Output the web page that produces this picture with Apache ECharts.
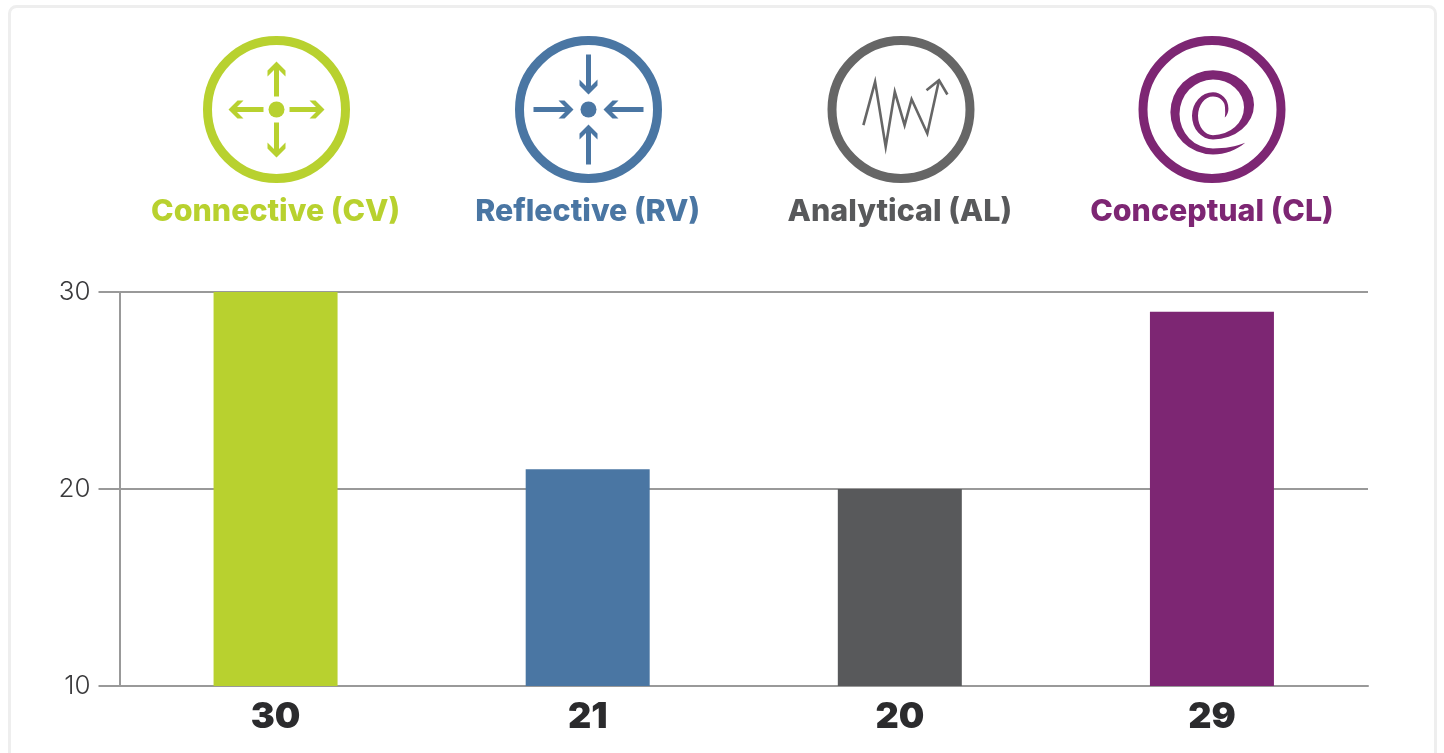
<!DOCTYPE html>
<html>
<head>
<meta charset="utf-8">
<style>
  html, body { margin: 0; padding: 0; background: #fff; }
  #main { width: 1444px; height: 753px; }
</style>
</head>
<body>
<div id="main"></div>
<script src="https://cdn.jsdelivr.net/npm/echarts@6/dist/echarts.min.js"></script>
<script>
const categories = ['Connective (CV)', 'Reflective (RV)', 'Analytical (AL)', 'Conceptual (CL)'];
const scores = [30, 21, 20, 29];
const barColors = ['#b8d12f', '#4a76a3', '#58595b', '#7d2673'];
const labelColors = ['#b8d12f', '#4a76a3', '#58595b', '#7d2673'];
const ringColors = ['#b8d12f', '#4a76a3', '#666666', '#7d2673'];
const iconCenters = [[276.5, 109.5], [588.5, 109.5], [901, 109.5], [1212, 109.5]];

const spiralPath = 'M12.8 8A12 12 0 0 0 16.4 -1A15.4 16.3 0 0 0 1 -17.3'
  + 'A21 23.65 0 0 0 1 30A41 34.65 0 0 0 1 -39.3A42.6 42.15 0 0 0 1 45'
  + 'C13 45 24 41 33.2 33.3C24 37 13 39 1 39'
  + 'A33.5 34.5 0 0 1 1 -30A31 27.85 0 0 1 1 25.7A15 19.35 0 0 1 1 -13'
  + 'A12 11 0 0 1 13 -2Q13.5 3 12.8 8Z';
echarts.graphic.registerShape('spiralIcon', echarts.graphic.extendPath(spiralPath, {}));

// arrow along the y axis, rotated into place by the caller
const arrowPoints = (tail, tip) => {
  const d = tip > tail ? 1 : -1;
  return [
    [0, tip], [9, tip - d * 9], [9, tip - d * 15], [2.5, tip - d * 8.5], [2.5, tail],
    [-2.5, tail], [-2.5, tip - d * 8.5], [-9, tip - d * 15], [-9, tip - d * 9],
  ];
};

const ring = (color) => ({
  type: 'circle',
  shape: { cx: 0, cy: 0, r: 69 },
  style: { fill: 'none', stroke: color, lineWidth: 9 },
});

const arrowIcon = (color, tail, tip) => {
  const children = [
    ring(color),
    { type: 'circle', shape: { cx: 0, cy: 0, r: 8 }, style: { fill: color } },
  ];
  [0, 1, 2, 3].forEach((k) => {
    children.push({
      type: 'polygon',
      rotation: k * Math.PI / 2,
      shape: { points: arrowPoints(tail, tip) },
      style: { fill: color },
    });
  });
  return children;
};

const zigzag = (color) => [
  ring(color),
  {
    type: 'polyline',
    shape: {
      points: [[-37.6, 15.7], [-25.9, -27.7], [-15.3, 37.3], [-6.2, -17.7], [3.6, 15.7], [10.6, -10.3], [26.3, 24], [38, -29.3]],
    },
    style: { fill: 'none', stroke: color, lineWidth: 2.6 },
  },
  {
    type: 'polyline',
    shape: { points: [[25.5, -19.3], [38, -29.3], [46.4, -15]] },
    style: { fill: 'none', stroke: color, lineWidth: 2.6 },
  },
];

const spiral = (color) => [
  ring(color),
  { type: 'spiralIcon', style: { fill: color } },
];

const iconChildren = [
  arrowIcon(ringColors[0], -13, -48),
  arrowIcon(ringColors[1], 55, 15),
  zigzag(ringColors[2]),
  spiral(ringColors[3]),
];

const chart = echarts.init(document.getElementById('main'), null, { renderer: 'canvas' });

chart.setOption({
  animation: false,
  backgroundColor: '#fff',
  grid: { left: 119.5, right: 76, top: 292, bottom: 67 },
  graphic: [
    {
      type: 'rect',
      z: -1,
      shape: { x: 9.5, y: 6.5, width: 1426, height: 800, r: 7 },
      style: { fill: '#fff', stroke: '#eeeeee', lineWidth: 3 },
    },
  ].concat(iconChildren.map((children, i) => ({
    type: 'group',
    x: iconCenters[i][0],
    y: iconCenters[i][1],
    children,
  }))),
  xAxis: [
    {
      type: 'category',
      position: 'bottom',
      data: scores.map(String),
      axisLine: { lineStyle: { color: '#999', width: 2 } },
      axisTick: { show: false },
      axisLabel: {
        interval: 0,
        margin: 13,
        fontFamily: 'Inter',
        fontWeight: 900,
        fontSize: 36,
        color: '#2b2b2d',
      },
    },
    {
      type: 'category',
      position: 'top',
      data: categories,
      axisLine: { show: false },
      axisTick: { show: false },
      axisLabel: {
        interval: 0,
        hideOverlap: false,
        margin: 65,
        fontFamily: 'Inter',
        fontWeight: 800,
        fontSize: 30.4,
        color: (value, index) => labelColors[index],
      },
    },
  ],
  yAxis: {
    type: 'value',
    min: 10,
    max: 30,
    interval: 10,
    axisLine: { show: true, lineStyle: { color: '#999', width: 2 } },
    axisTick: { show: true, length: 21, lineStyle: { color: '#999', width: 2 } },
    splitLine: { show: true, lineStyle: { color: '#999', width: 2 } },
    axisLabel: {
      margin: 29,
      fontFamily: 'Inter',
      fontWeight: 300,
      fontSize: 26,
      color: '#3a3a3c',
    },
  },
  series: [
    {
      type: 'bar',
      xAxisIndex: 0,
      barWidth: 124,
      data: scores.map((v, i) => ({ value: v, itemStyle: { color: barColors[i] } })),
    },
  ],
});
</script>
</body>
</html>
